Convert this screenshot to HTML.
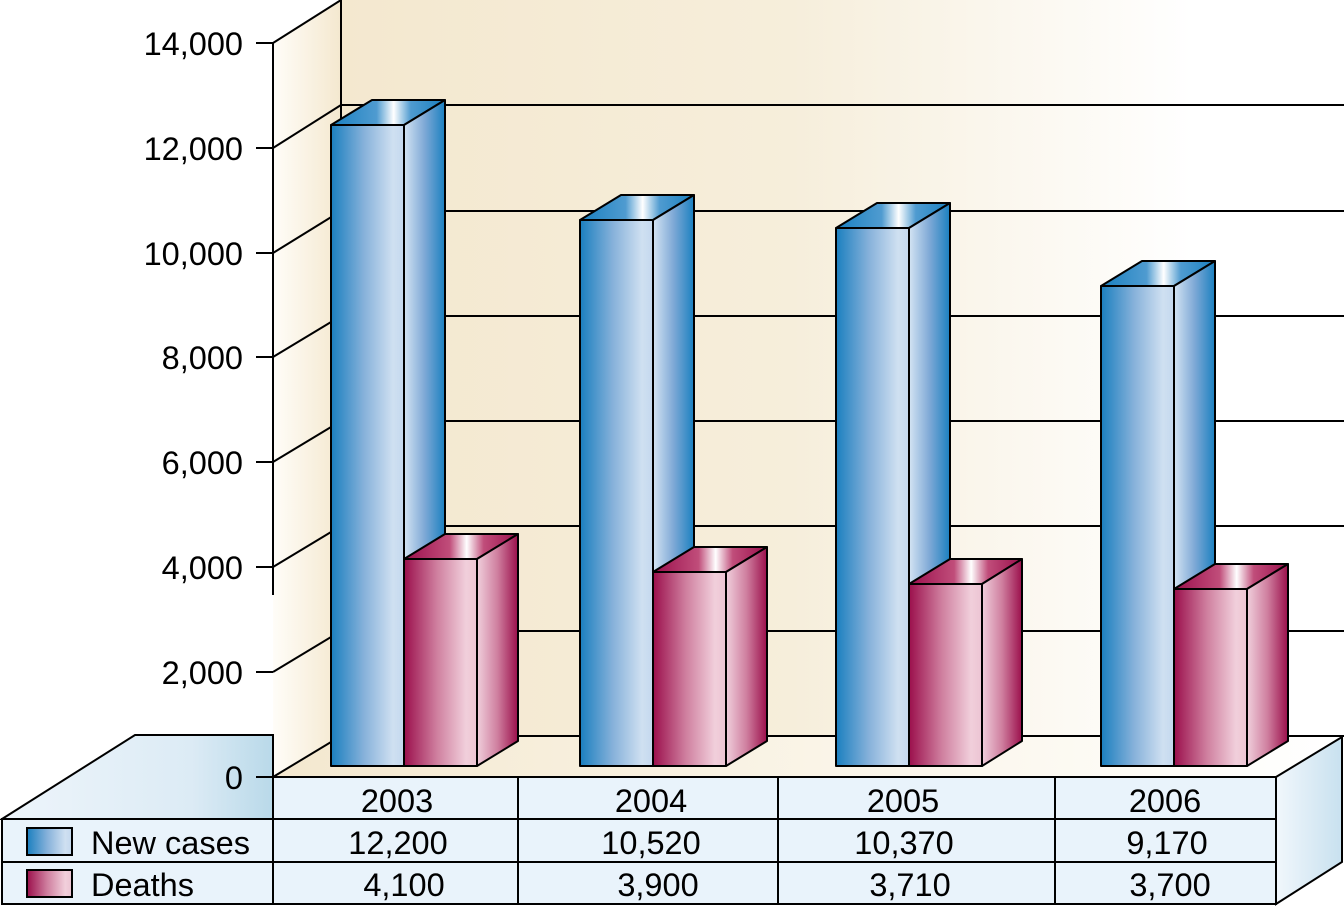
<!DOCTYPE html>
<html><head><meta charset="utf-8"><style>html,body{margin:0;padding:0;background:#fff}svg{display:block}</style></head>
<body>
<svg width="1344" height="907" viewBox="0 0 1344 907" xmlns="http://www.w3.org/2000/svg" font-family="Liberation Sans, sans-serif">
<defs>
<linearGradient id="back" x1="0" x2="1" y1="0" y2="0"><stop offset="0" stop-color="#f4e8cf"/><stop offset="0.45" stop-color="#f6eedb"/><stop offset="0.85" stop-color="#ffffff"/></linearGradient>
<linearGradient id="side" x1="0" x2="1"><stop offset="0" stop-color="#fffdf8"/><stop offset="1" stop-color="#f4e8cf"/></linearGradient>
<linearGradient id="floor" x1="0" x2="1"><stop offset="0" stop-color="#f4e8cf"/><stop offset="0.8" stop-color="#fdfbf5"/><stop offset="1" stop-color="#fff"/></linearGradient>
<linearGradient id="bf" x1="0" x2="1"><stop offset="0" stop-color="#1a7fbf"/><stop offset="0.45" stop-color="#86b1da"/><stop offset="0.85" stop-color="#cfe0f1"/><stop offset="1" stop-color="#c4d8ee"/></linearGradient>
<linearGradient id="bs" x1="0" x2="1"><stop offset="0" stop-color="#d4e4f3"/><stop offset="0.5" stop-color="#7fa9d6"/><stop offset="1" stop-color="#1a80c0"/></linearGradient>
<linearGradient id="bt" x1="0" x2="1"><stop offset="0" stop-color="#1a80c0"/><stop offset="0.4" stop-color="#4f9bd0"/><stop offset="0.55" stop-color="#ffffff"/><stop offset="0.7" stop-color="#4f9bd0"/><stop offset="1" stop-color="#1a80c0"/></linearGradient>
<linearGradient id="rf" x1="0" x2="1"><stop offset="0" stop-color="#9b0f4c"/><stop offset="0.45" stop-color="#cf7f9f"/><stop offset="0.85" stop-color="#f1cfdb"/><stop offset="1" stop-color="#ecc4d3"/></linearGradient>
<linearGradient id="rs" x1="0" x2="1"><stop offset="0" stop-color="#f0cfdc"/><stop offset="0.5" stop-color="#cf7f9f"/><stop offset="1" stop-color="#9b0f4c"/></linearGradient>
<linearGradient id="rt" x1="0" x2="1"><stop offset="0" stop-color="#9b0f4c"/><stop offset="0.4" stop-color="#c04d7a"/><stop offset="0.55" stop-color="#ffffff"/><stop offset="0.7" stop-color="#c04d7a"/><stop offset="1" stop-color="#9b0f4c"/></linearGradient>
<linearGradient id="tl" x1="0" x2="1"><stop offset="0" stop-color="#eef5fb"/><stop offset="0.7" stop-color="#dcebf5"/><stop offset="1" stop-color="#b9d9e9"/></linearGradient>
<linearGradient id="tr" x1="0" x2="1"><stop offset="0" stop-color="#f1f7fc"/><stop offset="1" stop-color="#c8e1ef"/></linearGradient>
</defs>
<rect x="341" y="0" width="1003" height="736" fill="url(#back)"/>
<polygon points="273,43 341,0 341,736 273,777" fill="url(#side)"/>
<polygon points="273,777 341,736 1342,736 1276,777" fill="url(#floor)"/>
<g stroke="#000" stroke-width="2" fill="none">
<line x1="341" y1="0" x2="341" y2="736"/>
<line x1="341" y1="105" x2="1344" y2="105"/><line x1="341" y1="211" x2="1344" y2="211"/>
<line x1="341" y1="316" x2="1344" y2="316"/><line x1="341" y1="421" x2="1344" y2="421"/>
<line x1="341" y1="526" x2="1344" y2="526"/><line x1="341" y1="631" x2="1344" y2="631"/>
<line x1="341" y1="736" x2="1344" y2="736"/>
<line x1="273" y1="43" x2="341" y2="0"/><line x1="273" y1="148" x2="341" y2="105"/>
<line x1="273" y1="253" x2="341" y2="211"/><line x1="273" y1="357" x2="341" y2="316"/>
<line x1="273" y1="462" x2="341" y2="421"/><line x1="273" y1="567" x2="341" y2="526"/>
<line x1="273" y1="672" x2="341" y2="631"/><line x1="273" y1="777" x2="341" y2="736"/>
<line x1="273" y1="43" x2="273" y2="595"/>
<line x1="256" y1="43" x2="273" y2="43"/><line x1="256" y1="148" x2="273" y2="148"/>
<line x1="256" y1="253" x2="273" y2="253"/><line x1="256" y1="357" x2="273" y2="357"/>
<line x1="256" y1="462" x2="273" y2="462"/><line x1="256" y1="567" x2="273" y2="567"/>
<line x1="256" y1="672" x2="273" y2="672"/>
</g>
<polygon points="2,819 135,735 273,735 273,819" fill="url(#tl)" stroke="#000" stroke-width="2"/>
<polygon points="1276,777 1342,737 1342,862 1276,904" fill="url(#tr)" stroke="#000" stroke-width="2"/>
<line x1="256" y1="777" x2="273" y2="777" stroke="#000" stroke-width="2"/>
<line x1="273" y1="736" x2="273" y2="819" stroke="#000" stroke-width="2"/>
<g font-size="32.5" text-anchor="end" fill="#000">
<text x="243" y="55">14,000</text><text x="243" y="160">12,000</text><text x="243" y="265">10,000</text>
<text x="243" y="369">8,000</text><text x="243" y="474">6,000</text><text x="243" y="579">4,000</text>
<text x="243" y="684">2,000</text><text x="243" y="789">0</text>
</g>
<g stroke="#000" stroke-width="2" stroke-linejoin="round">
<g>
<polygon points="331,125 372,100 445,100 404,125" fill="url(#bt)"/><polygon points="404,125 445,100 445,741 404,766" fill="url(#bs)"/><rect x="331" y="125" width="73" height="641" fill="url(#bf)"/>
<polygon points="404,559 445,534 518,534 477,559" fill="url(#rt)"/><polygon points="477,559 518,534 518,741 477,766" fill="url(#rs)"/><rect x="404" y="559" width="73" height="207" fill="url(#rf)"/>
</g>
<g>
<polygon points="580,220 621,195 694,195 653,220" fill="url(#bt)"/><polygon points="653,220 694,195 694,741 653,766" fill="url(#bs)"/><rect x="580" y="220" width="73" height="546" fill="url(#bf)"/>
<polygon points="653,572 694,547 767,547 726,572" fill="url(#rt)"/><polygon points="726,572 767,547 767,741 726,766" fill="url(#rs)"/><rect x="653" y="572" width="73" height="194" fill="url(#rf)"/>
</g>
<g>
<polygon points="836,228 877,203 950,203 909,228" fill="url(#bt)"/><polygon points="909,228 950,203 950,741 909,766" fill="url(#bs)"/><rect x="836" y="228" width="73" height="538" fill="url(#bf)"/>
<polygon points="909,584 950,559 1022,559 982,584" fill="url(#rt)"/><polygon points="982,584 1022,559 1022,741 982,766" fill="url(#rs)"/><rect x="909" y="584" width="73" height="182" fill="url(#rf)"/>
</g>
<g>
<polygon points="1101,286 1142,261 1215,261 1174,286" fill="url(#bt)"/><polygon points="1174,286 1215,261 1215,741 1174,766" fill="url(#bs)"/><rect x="1101" y="286" width="73" height="480" fill="url(#bf)"/>
<polygon points="1174,589 1215,564 1288,564 1247,589" fill="url(#rt)"/><polygon points="1247,589 1288,564 1288,741 1247,766" fill="url(#rs)"/><rect x="1174" y="589" width="73" height="177" fill="url(#rf)"/>
</g>
</g>
<rect x="273" y="777" width="1003" height="127" fill="#e9f3fb"/>
<rect x="2" y="819" width="271" height="85" fill="#e9f3fb"/>
<g stroke="#000" stroke-width="2" fill="none">
<rect x="2" y="819" width="1274" height="85"/>
<line x1="273" y1="777" x2="1276" y2="777"/>
<line x1="2" y1="862" x2="1276" y2="862"/>
<line x1="273" y1="777" x2="273" y2="904"/><line x1="518" y1="777" x2="518" y2="904"/>
<line x1="778" y1="777" x2="778" y2="904"/><line x1="1055" y1="777" x2="1055" y2="904"/>
<line x1="1276" y1="777" x2="1276" y2="904"/>
</g>
<rect x="27" y="828" width="45" height="27" fill="url(#bf)" stroke="#000" stroke-width="2"/>
<rect x="27" y="870" width="45" height="27" fill="url(#rf)" stroke="#000" stroke-width="2"/>
<g font-size="32.5" fill="#000">
<text x="91" y="854">New cases</text><text x="91" y="896">Deaths</text>
</g>
<g font-size="32.5" fill="#000" text-anchor="middle">
<text x="397" y="812">2003</text><text x="651" y="812">2004</text><text x="903" y="812">2005</text><text x="1165" y="812">2006</text>
<text x="398" y="854">12,200</text><text x="651" y="854">10,520</text><text x="904" y="854">10,370</text><text x="1167" y="854">9,170</text>
<text x="404" y="896">4,100</text><text x="658" y="896">3,900</text><text x="910" y="896">3,710</text><text x="1170" y="896">3,700</text>
</g>
</svg>
</body></html>
